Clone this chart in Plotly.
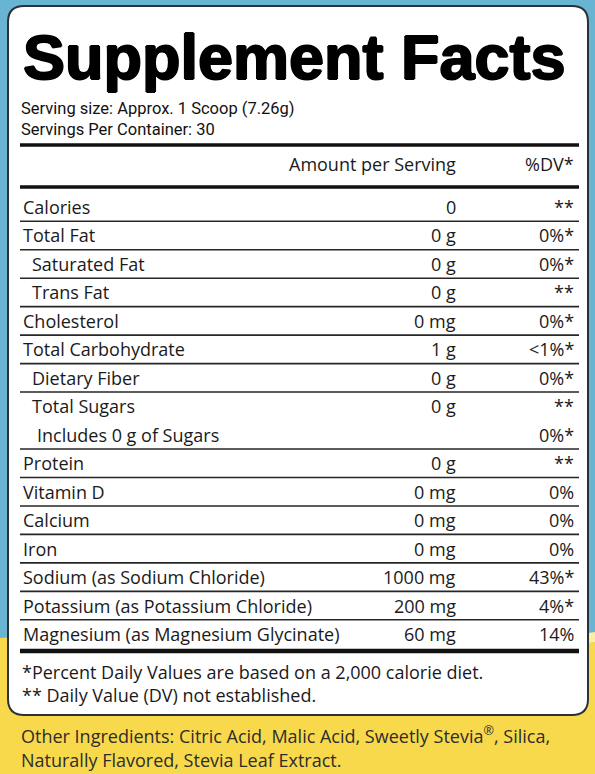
import plotly.graph_objects as go

# ---- data ----
title = "Supplement Facts"
serving_lines = ["Serving size: Approx. 1 Scoop (7.26g)", "Servings Per Container: 30"]
header_amount = "Amount per Serving"
header_dv = "%DV*"
nutrients = ["Calories", "Total Fat", "Saturated Fat", "Trans Fat", "Cholesterol",
             "Total Carbohydrate", "Dietary Fiber", "Total Sugars", "Includes 0 g of Sugars",
             "Protein", "Vitamin D", "Calcium", "Iron", "Sodium (as Sodium Chloride)",
             "Potassium (as Potassium Chloride)", "Magnesium (as Magnesium Glycinate)"]
amounts = ["0", "0 g", "0 g", "0 g", "0 mg", "1 g", "0 g", "0 g", "",
           "0 g", "0 mg", "0 mg", "0 mg", "1000 mg", "200 mg", "60 mg"]
daily_values = ["**", "0%*", "0%*", "**", "0%*", "<1%*", "0%*", "**", "0%*",
                "**", "0%", "0%", "0%", "43%*", "4%*", "14%"]
indent_level = [0, 0, 1, 1, 0, 0, 1, 1, 2, 0, 0, 0, 0, 0, 0, 0]
no_rule_after = ["Total Sugars"]
footnotes = ["*Percent Daily Values are based on a 2,000 calorie diet.",
             "** Daily Value (DV) not established."]
other_ingredients = ["Other Ingredients: Citric Acid, Malic Acid, Sweetly Stevia<sup>®</sup>, Silica,",
                     "Naturally Flavored, Stevia Leaf Extract."]

# ---- layout constants ----
W, H = 595, 774
BODY_FONT = "Open Sans"
TXT = "#1a1a1a"
LINE = "#262626"
X_L, X_AMT, X_DV, X_R = 21, 458, 576, 579
ROW0, ROW_STEP = 207, 28.47
INDENT_PX = [0, 9, 14]

fig = go.Figure()

shapes = []
annotations = []

# background
shapes.append(dict(type="rect", x0=0, x1=W, y0=0, y1=H, fillcolor="#68b4d2", line_width=0, layer="below"))
shapes.append(dict(type="path", path=f"M 0,638 C 160,628 380,660 {W},642 L {W},{H} L 0,{H} Z",
                   fillcolor="#f8d94b", line_width=0, layer="below"))
shapes.append(dict(type="path", path=f"M 420,652 C 480,648 540,640 {W},632 L {W},642 C 540,650 480,656 420,656 Z",
                   fillcolor="#fbeea6", line_width=0, layer="below"))


def rounded_rect(x0, y0, x1, y1, r):
    return (f"M {x0+r},{y0} L {x1-r},{y0} Q {x1},{y0} {x1},{y0+r} "
            f"L {x1},{y1-r} Q {x1},{y1} {x1-r},{y1} L {x0+r},{y1} Q {x0},{y1} {x0},{y1-r} "
            f"L {x0},{y0+r} Q {x0},{y0} {x0+r},{y0} Z")


shapes.append(dict(type="path", path=rounded_rect(8, 6, 588, 715, 16),
                   fillcolor="white", line=dict(color="#2a3238", width=2), layer="below"))


def hline(y, w, color=LINE):
    shapes.append(dict(type="line", x0=20, x1=X_R, y0=y, y1=y, line=dict(color=color, width=w)))


def text(x, y, s, size, anchor="left", color=TXT, family=BODY_FONT, shadow=None):
    f = dict(family=family, size=size, color=color)
    if shadow:
        f["shadow"] = shadow
    annotations.append(dict(x=x, y=y, xref="x", yref="y", text=s, showarrow=False,
                            xanchor=anchor, yanchor="middle", font=f, align=anchor))


# title
text(21, 57, "<b>" + title + "</b>", 63, family="Liberation Sans, Arial", color="#000000",
     shadow="1px 0px 0px #000, -1px 0px 0px #000, 0px 1px 0px #000, 0px -1px 0px #000")
# serving info
for i, s in enumerate(serving_lines):
    text(19, 108 + i * 21, s, 16.5, family="Roboto", color="#111111")

hline(145, 3.5, "#111111")
text(X_AMT, 164, header_amount, 18, anchor="right")
text(X_DV, 164, header_dv, 18, anchor="right")
hline(187, 3.5, "#111111")

n = len(nutrients)
for i in range(n):
    yc = ROW0 + i * ROW_STEP
    text(X_L + INDENT_PX[indent_level[i]], yc, nutrients[i], 18)
    if amounts[i]:
        text(X_AMT, yc, amounts[i], 18, anchor="right")
    text(X_DV, yc, daily_values[i], 18, anchor="right")
    if i < n - 1 and nutrients[i] not in no_rule_after:
        hline(yc + ROW_STEP / 2, 1.6)

hline(ROW0 + (n - 1) * ROW_STEP + 17, 4.5, "#111111")

for i, s in enumerate(footnotes):
    text(20, 672 + i * 23, s, 18)

for i, s in enumerate(other_ingredients):
    text(19, 735 + i * 25, s, 18, color="#2d2d2d")

fig.update_layout(
    width=W, height=H, margin=dict(l=0, r=0, t=0, b=0),
    paper_bgcolor="#68b4d2", plot_bgcolor="rgba(0,0,0,0)",
    xaxis=dict(range=[0, W], visible=False, fixedrange=True),
    yaxis=dict(range=[H, 0], visible=False, fixedrange=True),
    shapes=shapes, annotations=annotations, showlegend=False,
)

fig.write_html("out.html", config={"displayModeBar": False},
               post_script="document.body.style.margin='0px';document.body.style.padding='0px';")
